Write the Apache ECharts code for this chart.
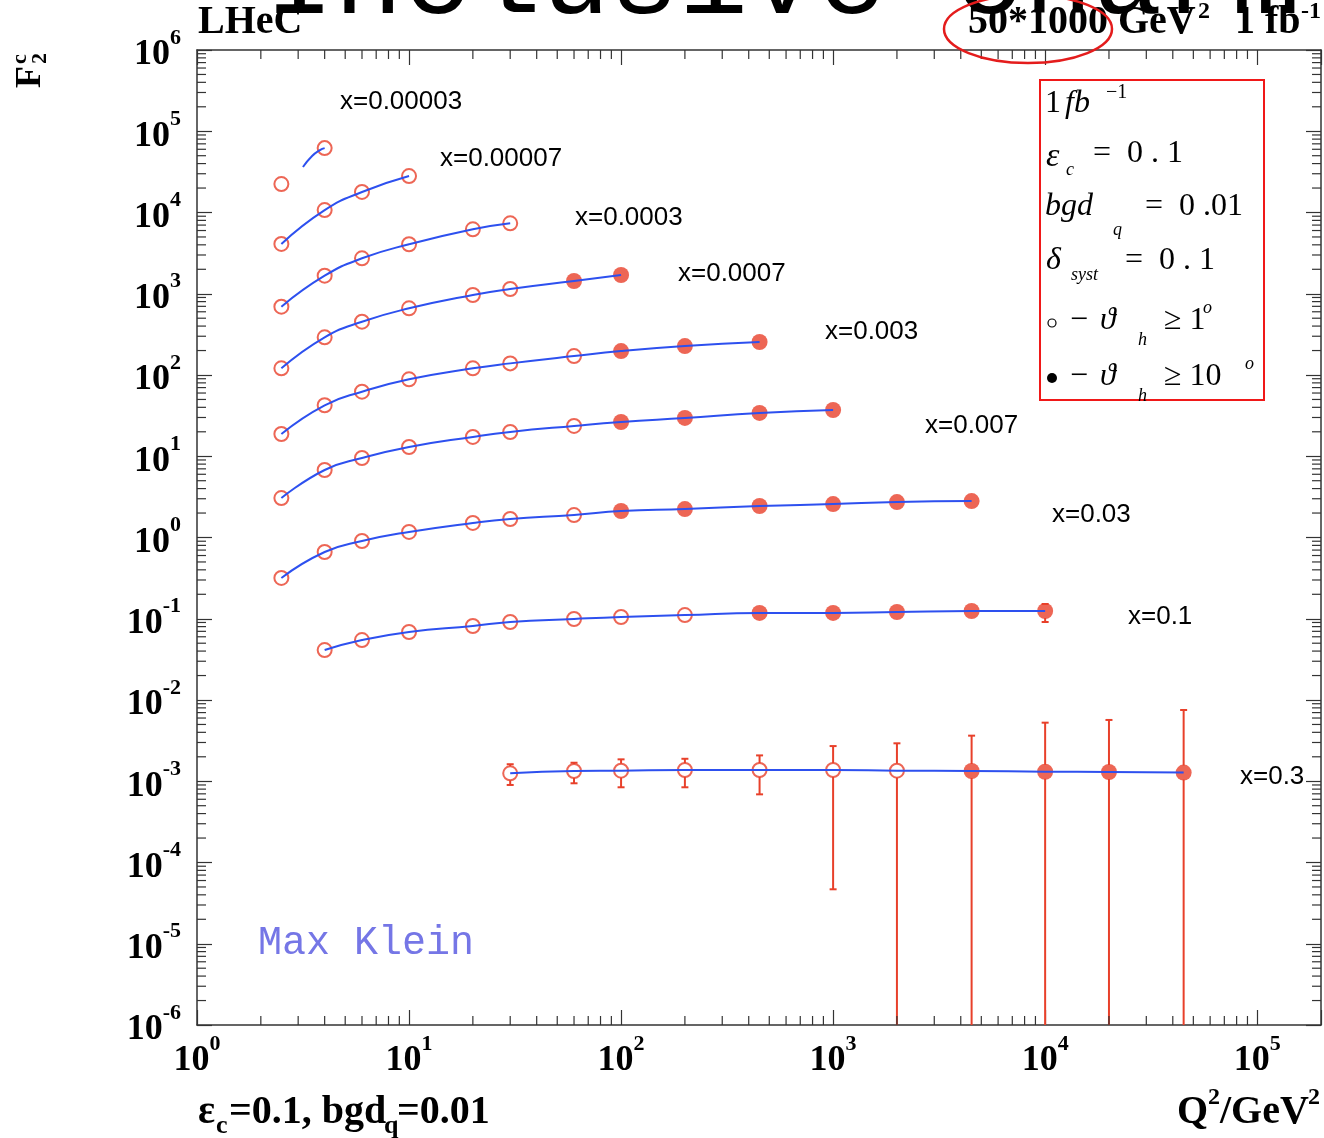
<!DOCTYPE html>
<html>
<head>
<meta charset="utf-8">
<title>F2c LHeC</title>
<script src="https://cdn.jsdelivr.net/npm/echarts@6/dist/echarts.min.js"></script>
<style>
  html, body { margin: 0; padding: 0; background: #fff; }
  #chart { width: 1324px; height: 1138px; }
</style>
</head>
<body>
<div id="chart"></div>
<script>
// Q^2 bins (GeV^2) and scaled F2c values per x bin
const q2_00003 = [2.5, 4];
const f2_00003 = [2.24e4, 6.2e4];
const curve_00003 = [[3.16, 3.63e4], [3.49, 4.96e4], [3.8, 5.87e4], [4, 6.2e4]];

const q2_00007 = [2.5, 4, 6, 10];
const f2_00007 = [4.1e3, 1.07e4, 1.79e4, 2.81e4];

const q2_0003 = [2.5, 4, 6, 10, 20, 30];
const f2_0003 = [693, 1667, 2730, 4064, 6213, 7362];

const q2_0007 = [2.5, 4, 6, 10, 20, 30, 60, 100];
const f2_0007 = [120.8, 291, 453, 662, 966, 1144, 1435, 1701];

const q2_003 = [2.5, 4, 6, 10, 20, 30, 60, 100, 200, 450];
const f2_003 = [18.8, 42.4, 62.3, 88.5, 120.8, 139, 171, 197, 227, 255];

const q2_007 = [2.5, 4, 6, 10, 20, 30, 60, 100, 200, 450, 1000];
const f2_007 = [3.06, 6.77, 9.51, 13.0, 17.3, 19.9, 23.6, 26.4, 29.6, 34.1, 37.1];

const q2_03 = [2.5, 4, 6, 10, 20, 30, 60, 100, 200, 450, 1000, 2000, 4500];
const f2_03 = [0.318, 0.663, 0.906, 1.17, 1.51, 1.69, 1.89, 2.12, 2.24, 2.44, 2.58, 2.73, 2.81];

const q2_1 = [4, 6, 10, 20, 30, 60, 100, 200, 450, 1000, 2000, 4500, 10000];
const f2_1 = [0.0412, 0.0547, 0.0687, 0.0815, 0.0912, 0.0993, 0.105, 0.111, 0.118, 0.118, 0.121, 0.1245, 0.1245];

const q2_3 = [30, 60, 100, 200, 450, 1000, 2000, 4500, 10000, 20000, 45000];
const f2_3 = [1.253e-3, 1.337e-3, 1.35e-3, 1.375e-3, 1.375e-3, 1.375e-3, 1.35e-3, 1.337e-3, 1.31e-3, 1.30e-3, 1.28e-3];
const f2_3_hi = [1.62e-3, 1.69e-3, 1.86e-3, 1.89e-3, 2.08e-3, 2.71e-3, 2.93e-3, 3.64e-3, 5.26e-3, 5.68e-3, 7.53e-3];
const f2_3_lo = [9.0e-4, 9.44e-4, 8.43e-4, 8.43e-4, 6.9e-4, 4.68e-5, 0, 0, 0, 0, 0]; // 0 = below the frame

// error on last x=0.1 point
const err_1 = [10000, 0.1245, 0.152, 0.0912];

const xDecades = [1, 10, 100, 1000, 1e4, 1e5];
const yDecades = [1e-6, 1e-5, 1e-4, 1e-3, 1e-2, 1e-1, 1, 10, 100, 1e3, 1e4, 1e5];

const RED = '#e8402a';
const BLUE = '#2d50ef';
const SERIF = '"Liberation Serif", "Times New Roman", serif';

// [q2, f2, number of open markers (theta_h >= 1 deg), curve]
const sets = [
  [q2_00003, f2_00003, 2, curve_00003],
  [q2_00007, f2_00007, 4],
  [q2_0003, f2_0003, 6],
  [q2_0007, f2_0007, 6],
  [q2_003, f2_003, 7],
  [q2_007, f2_007, 7],
  [q2_03, f2_03, 7],
  [q2_1, f2_1, 8],
  [q2_3, f2_3, 7]
];

let chart = echarts.init(document.getElementById('chart'));

let series = [];
sets.forEach(s => {
  let pts = s[0].map((q, i) => [q, s[1][i]]);
  series.push({
    type: 'scatter', data: pts.slice(0, s[2]), symbol: 'circle', symbolSize: 14, z: 3, silent: true,
    itemStyle: { color: 'rgba(255,255,255,0)', borderColor: RED, borderWidth: 2 }
  });
  if (pts.length > s[2]) {
    series.push({
      type: 'scatter', data: pts.slice(s[2]), symbol: 'circle', symbolSize: 16, z: 3, silent: true,
      itemStyle: { color: RED }
    });
  }
  series.push({
    type: 'line', data: s[3] || pts, smooth: 0.5, symbol: 'none', z: 4, silent: true,
    lineStyle: { color: BLUE, width: 2 }
  });
});

// error bars
let errData = q2_3.map((q, i) => [q, f2_3[i], f2_3_hi[i], f2_3_lo[i]]);
errData.push(err_1);
series.push({
  type: 'custom', data: errData, z: 2, silent: true, clip: true,
  renderItem(params, api) {
    let q = api.value(0), hi = api.value(2), lo = api.value(3);
    let c = api.coord([q, api.value(1)]);
    let top = api.coord([q, hi])[1];
    let cs = params.coordSys;
    let r = 7, w = 3.5;
    let st = { stroke: RED, lineWidth: 2 };
    let kids = [];
    if (c[1] - top > r) {
      kids.push({ type: 'line', shape: { x1: c[0], y1: c[1] - r, x2: c[0], y2: top }, style: st });
      kids.push({ type: 'line', shape: { x1: c[0] - w, y1: top, x2: c[0] + w, y2: top }, style: st });
    }
    let bot = lo > 0 ? api.coord([q, lo])[1] : cs.y + cs.height;
    if (bot - c[1] > r) {
      kids.push({ type: 'line', shape: { x1: c[0], y1: c[1] + r, x2: c[0], y2: bot }, style: st });
      if (lo > 0) kids.push({ type: 'line', shape: { x1: c[0] - w, y1: bot, x2: c[0] + w, y2: bot }, style: st });
    }
    return { type: 'group', children: kids };
  }
});

// minor ticks at 2..9 of every decade, on all four sides of the frame
let minor = [];
xDecades.forEach(d => { for (let k = 2; k <= 9; k++) if (k * d < 2e5) minor.push([k * d, 1, 0]); });
yDecades.forEach(d => { for (let k = 2; k <= 9; k++) minor.push([1, k * d, 1]); });
series.push({
  type: 'custom', data: minor, z: 5, silent: true,
  renderItem(params, api) {
    let cs = params.coordSys;
    let p = api.coord([api.value(0), api.value(1)]);
    let L = 9;
    let st = { stroke: '#333', lineWidth: 1.2 };
    if (api.value(2) === 0) {
      return { type: 'group', children: [
        { type: 'line', shape: { x1: p[0], y1: cs.y + cs.height, x2: p[0], y2: cs.y + cs.height - L }, style: st },
        { type: 'line', shape: { x1: p[0], y1: cs.y, x2: p[0], y2: cs.y + L }, style: st }
      ] };
    }
    return { type: 'group', children: [
      { type: 'line', shape: { x1: cs.x, y1: p[1], x2: cs.x + L, y2: p[1] }, style: st },
      { type: 'line', shape: { x1: cs.x + cs.width, y1: p[1], x2: cs.x + cs.width - L, y2: p[1] }, style: st }
    ] };
  }
});

function powLabel(v) {
  let e = Math.round(Math.log10(v));
  if (Math.abs(v / Math.pow(10, e) - 1) > 1e-6) return '';
  return '{b|10}{s|' + e + '}';
}
const labelRich = {
  b: { fontFamily: SERIF, fontWeight: 'bold', fontSize: 36, lineHeight: 46, verticalAlign: 'bottom', color: '#000' },
  s: { fontFamily: SERIF, fontWeight: 'bold', fontSize: 22, lineHeight: 22, verticalAlign: 'top', color: '#000' }
};
const frameLine = { show: true, onZero: false, lineStyle: { color: '#333', width: 1.5 } };
const majorTick = { show: true, inside: true, length: 15, lineStyle: { color: '#333', width: 1.2 } };

function txt(text, x, y, size, opt) {
  opt = opt || {};
  return {
    type: 'text', x: x, y: y, z: 10,
    style: {
      text: text, fill: opt.fill || '#000',
      font: (opt.italic ? 'italic ' : '') + (opt.bold ? 'bold ' : '') + size + 'px ' + (opt.family || SERIF),
      align: opt.align || 'left', verticalAlign: 'middle'
    }
  };
}
const SANS = '"Liberation Sans", Arial, sans-serif';
const MONO = '"Liberation Mono", "Courier New", monospace';

let graphic = [
  txt('Inclusive charm', 265, -17, 115, { family: MONO }),
  txt('LHeC', 198, 23, 40, { bold: true }),
  txt('50*1000 GeV', 968, 23, 40, { bold: true }),
  txt('2', 1198, 12, 24, { bold: true }),
  txt('1 fb', 1235, 23, 40, { bold: true }),
  txt('-1', 1301, 12, 24, { bold: true }),
  { type: 'ellipse', z: 11, shape: { cx: 1028, cy: 29, rx: 84, ry: 34 }, style: { fill: 'none', stroke: '#e41c1c', lineWidth: 2.5 } },
  { type: 'group', x: 31, y: 88, rotation: Math.PI / 2, z: 10, children: [
    txt('F', 0, 0, 36, { bold: true }),
    txt('2', 24, 9, 22, { bold: true }),
    txt('c', 24, -11, 22, { bold: true })
  ] },
  txt('\u03b5', 198, 1113, 40, { bold: true }),
  txt('c', 216, 1126, 26, { bold: true }),
  txt('=0.1, bgd', 229, 1113, 40, { bold: true }),
  txt('q', 384, 1126, 26, { bold: true }),
  txt('=0.01', 397, 1113, 40, { bold: true }),
  txt('Q', 1177, 1113, 40, { bold: true }),
  txt('2', 1208, 1098, 24, { bold: true }),
  txt('/GeV', 1220, 1113, 40, { bold: true }),
  txt('2', 1308, 1098, 24, { bold: true }),
  txt('Max Klein', 258, 943, 40, { family: MONO, fill: '#7576e6' }),
  txt('x=0.00003', 340, 102, 26, { family: SANS }),
  txt('x=0.00007', 440, 159, 26, { family: SANS }),
  txt('x=0.0003', 575, 218, 26, { family: SANS }),
  txt('x=0.0007', 678, 274, 26, { family: SANS }),
  txt('x=0.003', 825, 332, 26, { family: SANS }),
  txt('x=0.007', 925, 426, 26, { family: SANS }),
  txt('x=0.03', 1052, 515, 26, { family: SANS }),
  txt('x=0.1', 1128, 617, 26, { family: SANS }),
  txt('x=0.3', 1240, 777, 26, { family: SANS }),
  // parameter box
  { type: 'rect', z: 10, shape: { x: 1040, y: 80, width: 224, height: 320 }, style: { fill: 'none', stroke: '#f01818', lineWidth: 2 } },
  txt('1', 1045, 104, 32),
  txt('fb', 1065, 104, 32, { italic: true }),
  txt('\u22121', 1106, 93, 20),
  txt('\u03b5', 1046, 157, 34, { italic: true }),
  txt('c', 1066, 170, 18, { italic: true }),
  txt('=  0 . 1', 1093, 154, 32),
  txt('bgd', 1045, 207, 32, { italic: true }),
  txt('q', 1113, 230, 18, { italic: true }),
  txt('=  0 .01', 1145, 207, 32),
  txt('\u03b4', 1046, 261, 32, { italic: true }),
  txt('syst', 1071, 275, 18, { italic: true }),
  txt('=  0 . 1', 1125, 261, 32),
  { type: 'circle', z: 10, shape: { cx: 1052, cy: 323, r: 4 }, style: { fill: 'none', stroke: '#000', lineWidth: 1.2 } },
  txt('\u2212', 1070, 321, 32),
  txt('\u03d1', 1100, 321, 32, { italic: true }),
  txt('h', 1138, 340, 18, { italic: true }),
  txt('\u2265 1', 1164, 321, 32),
  txt('o', 1203, 308, 18, { italic: true }),
  { type: 'circle', z: 10, shape: { cx: 1052, cy: 378, r: 5 }, style: { fill: '#000' } },
  txt('\u2212', 1070, 377, 32),
  txt('\u03d1', 1100, 377, 32, { italic: true }),
  txt('h', 1138, 396, 18, { italic: true }),
  txt('\u2265 10', 1164, 377, 32),
  txt('o', 1245, 364, 18, { italic: true })
];

let option = {
  animation: false,
  backgroundColor: '#fff',
  grid: { left: 197, top: 50, width: 1124, height: 975, outerBoundsMode: 'none', containLabel: false },
  xAxis: [
    {
      type: 'log', logBase: 10, min: 1, max: 2e5, interval: 1, position: 'bottom',
      axisLine: frameLine, axisTick: majorTick, splitLine: { show: false },
      axisLabel: { margin: 8, formatter: powLabel, rich: labelRich, showMinLabel: true, showMaxLabel: true }
    },
    {
      type: 'log', logBase: 10, min: 1, max: 2e5, interval: 1, position: 'top',
      axisLine: frameLine, axisTick: majorTick, splitLine: { show: false }, axisLabel: { show: false }
    }
  ],
  yAxis: [
    {
      type: 'log', logBase: 10, min: 1e-6, max: 1e6, interval: 1, position: 'left',
      axisLine: frameLine, axisTick: majorTick, splitLine: { show: false },
      axisLabel: { margin: 16, formatter: powLabel, rich: labelRich, showMinLabel: true, showMaxLabel: true }
    },
    {
      type: 'log', logBase: 10, min: 1e-6, max: 1e6, interval: 1, position: 'right',
      axisLine: frameLine, axisTick: majorTick, splitLine: { show: false }, axisLabel: { show: false }
    }
  ],
  graphic: graphic,
  series: series
};

option && chart.setOption(option);
</script>
</body>
</html>
